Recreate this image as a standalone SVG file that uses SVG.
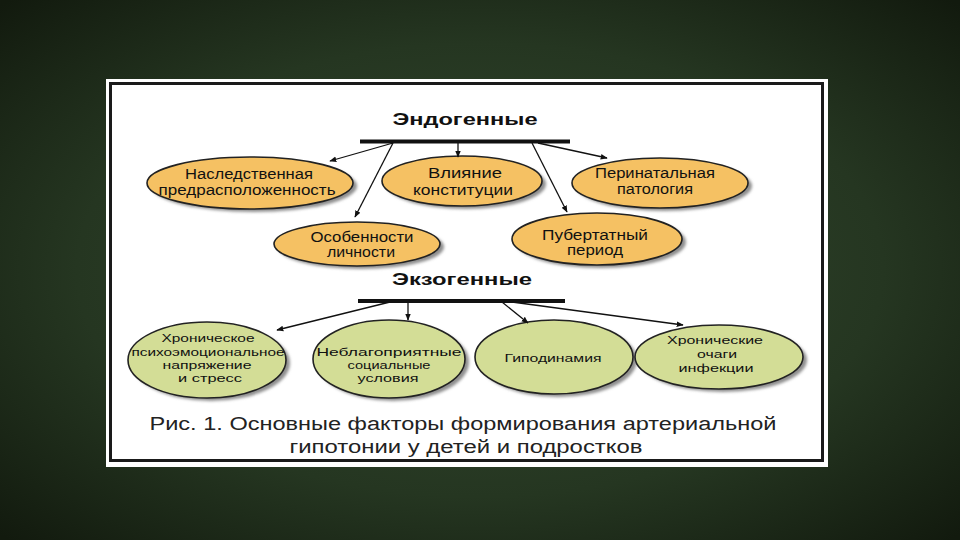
<svg xmlns="http://www.w3.org/2000/svg" width="960" height="540" viewBox="0 0 960 540">
<defs>
<radialGradient id="bg" cx="50%" cy="50%" r="70%">
<stop offset="0" stop-color="#34492f"/>
<stop offset="0.6" stop-color="#253621"/>
<stop offset="1" stop-color="#121a0e"/>
</radialGradient>
<filter id="blur" x="-20%" y="-20%" width="140%" height="140%"><feGaussianBlur stdDeviation="1.5"/></filter>
<marker id="arr" viewBox="0 0 10 10" refX="9" refY="5" markerWidth="7" markerHeight="7" markerUnits="userSpaceOnUse" orient="auto"><path d="M0,1 L10,5 L0,9 z" fill="#111"/></marker>
<style>
.sh{fill:#8f8f8f;filter:url(#blur)}
.or{fill:#F5C163;stroke:#222;stroke-width:1.6}
.gr{fill:#D3DD96;stroke:#222;stroke-width:1.6}
.t{font-family:"Liberation Sans",Arial,sans-serif;font-size:14px;fill:#111;text-anchor:middle}
.tg{font-family:"Liberation Sans",Arial,sans-serif;font-size:11.5px;fill:#111;text-anchor:middle}
.h{font-family:"Liberation Sans",Arial,sans-serif;font-size:16px;font-weight:bold;fill:#111;text-anchor:middle}
.cap{font-family:"Liberation Sans",Arial,sans-serif;font-size:18px;fill:#222;text-anchor:middle}
.ln{stroke:#111;stroke-width:1.3;fill:none;marker-end:url(#arr)}
.bar{stroke:#111;stroke-width:4}
</style>
</defs>
<rect width="960" height="540" fill="url(#bg)"/>
<rect x="106" y="79" width="722" height="388" fill="#fff"/>
<rect x="110.5" y="83.5" width="712" height="377" fill="none" stroke="#1a1a1a" stroke-width="3"/>

<g id="endo-title">
<text class="h" x="465" y="125" textLength="145" lengthAdjust="spacingAndGlyphs">Эндогенные</text>
<line class="bar" x1="360" y1="141.5" x2="570" y2="141.5"/>
</g>

<g id="exo-title">
<text class="h" x="462" y="285" textLength="140" lengthAdjust="spacingAndGlyphs">Экзогенные</text>
<line class="bar" x1="358" y1="301" x2="565" y2="301"/>
</g>

<g id="n1">
<ellipse class="sh" cx="254" cy="186" rx="103" ry="26"/>
<ellipse class="or" cx="250" cy="183" rx="103" ry="26"/>
<text class="t" x="249" y="179" textLength="128" lengthAdjust="spacingAndGlyphs">Наследственная</text>
<text class="t" x="247" y="195" textLength="177" lengthAdjust="spacingAndGlyphs">предрасположенность</text>
</g>

<g id="n2">
<ellipse class="sh" cx="466" cy="184" rx="80" ry="25"/>
<ellipse class="or" cx="462" cy="181" rx="80" ry="25"/>
<text class="t" x="465" y="178" textLength="74" lengthAdjust="spacingAndGlyphs">Влияние</text>
<text class="t" x="463" y="195" textLength="100" lengthAdjust="spacingAndGlyphs">конституции</text>
</g>

<g id="n3">
<ellipse class="sh" cx="664" cy="186" rx="88" ry="25"/>
<ellipse class="or" cx="660" cy="183" rx="88" ry="25"/>
<text class="t" x="655" y="178" textLength="120" lengthAdjust="spacingAndGlyphs">Перинатальная</text>
<text class="t" x="655" y="194" textLength="76" lengthAdjust="spacingAndGlyphs">патология</text>
</g>

<g id="n4">
<ellipse class="sh" cx="361" cy="247" rx="83" ry="22"/>
<ellipse class="or" cx="357" cy="244" rx="83" ry="22"/>
<text class="t" x="362" y="242" textLength="103" lengthAdjust="spacingAndGlyphs">Особенности</text>
<text class="t" x="361" y="257" textLength="68" lengthAdjust="spacingAndGlyphs">личности</text>
</g>

<g id="n5">
<ellipse class="sh" cx="601" cy="242" rx="85" ry="26"/>
<ellipse class="or" cx="597" cy="239" rx="85" ry="26"/>
<text class="t" x="595" y="240" textLength="106" lengthAdjust="spacingAndGlyphs">Пубертатный</text>
<text class="t" x="595" y="255" textLength="56" lengthAdjust="spacingAndGlyphs">период</text>
</g>

<g id="g1">
<ellipse class="sh" cx="211" cy="363" rx="79" ry="38"/>
<ellipse class="gr" cx="207" cy="360" rx="79" ry="38"/>
<text class="tg" x="208" y="342" textLength="93" lengthAdjust="spacingAndGlyphs">Хроническое</text>
<text class="tg" x="208" y="356" textLength="153" lengthAdjust="spacingAndGlyphs">психоэмоциональное</text>
<text class="tg" x="207" y="369" textLength="89" lengthAdjust="spacingAndGlyphs">напряжение</text>
<text class="tg" x="210" y="382" textLength="64" lengthAdjust="spacingAndGlyphs">и стресс</text>
</g>

<g id="g2">
<ellipse class="sh" cx="393" cy="362" rx="76" ry="39"/>
<ellipse class="gr" cx="389" cy="359" rx="76" ry="39"/>
<text class="tg" x="389" y="356" textLength="145" lengthAdjust="spacingAndGlyphs">Неблагоприятные</text>
<text class="tg" x="389" y="369" textLength="83" lengthAdjust="spacingAndGlyphs">социальные</text>
<text class="tg" x="388" y="382" textLength="61" lengthAdjust="spacingAndGlyphs">условия</text>
</g>

<g id="g3">
<ellipse class="sh" cx="558" cy="360" rx="79" ry="37"/>
<ellipse class="gr" cx="554" cy="357" rx="79" ry="37"/>
<text class="tg" x="553" y="362" textLength="97" lengthAdjust="spacingAndGlyphs">Гиподинамия</text>
</g>

<g id="g4">
<ellipse class="sh" cx="723" cy="360" rx="84" ry="32"/>
<ellipse class="gr" cx="719" cy="357" rx="84" ry="32"/>
<text class="tg" x="715" y="344" textLength="96" lengthAdjust="spacingAndGlyphs">Хронические</text>
<text class="tg" x="717" y="358" textLength="40" lengthAdjust="spacingAndGlyphs">очаги</text>
<text class="tg" x="716" y="372" textLength="75" lengthAdjust="spacingAndGlyphs">инфекции</text>
</g>

<g id="connectors">
<path class="ln" d="M393,143 L330,161"/>
<path class="ln" d="M393,143 L355,217"/>
<path class="ln" d="M458,143 L458,157"/>
<path class="ln" d="M532,143 L567,212"/>
<path class="ln" d="M538,143 L607,158"/>
<path class="ln" d="M390,302 L277,330"/>
<path class="ln" d="M408,302 L408,320"/>
<path class="ln" d="M502,302 L528,323"/>
<path class="ln" d="M512,302 L683,325"/>
</g>

<g id="caption">
<text class="cap" x="463" y="430" textLength="627" lengthAdjust="spacingAndGlyphs">Рис. 1. Основные факторы формирования артериальной</text>
<text class="cap" x="466" y="453" textLength="353" lengthAdjust="spacingAndGlyphs">гипотонии у детей и подростков</text>
</g>
</svg>
